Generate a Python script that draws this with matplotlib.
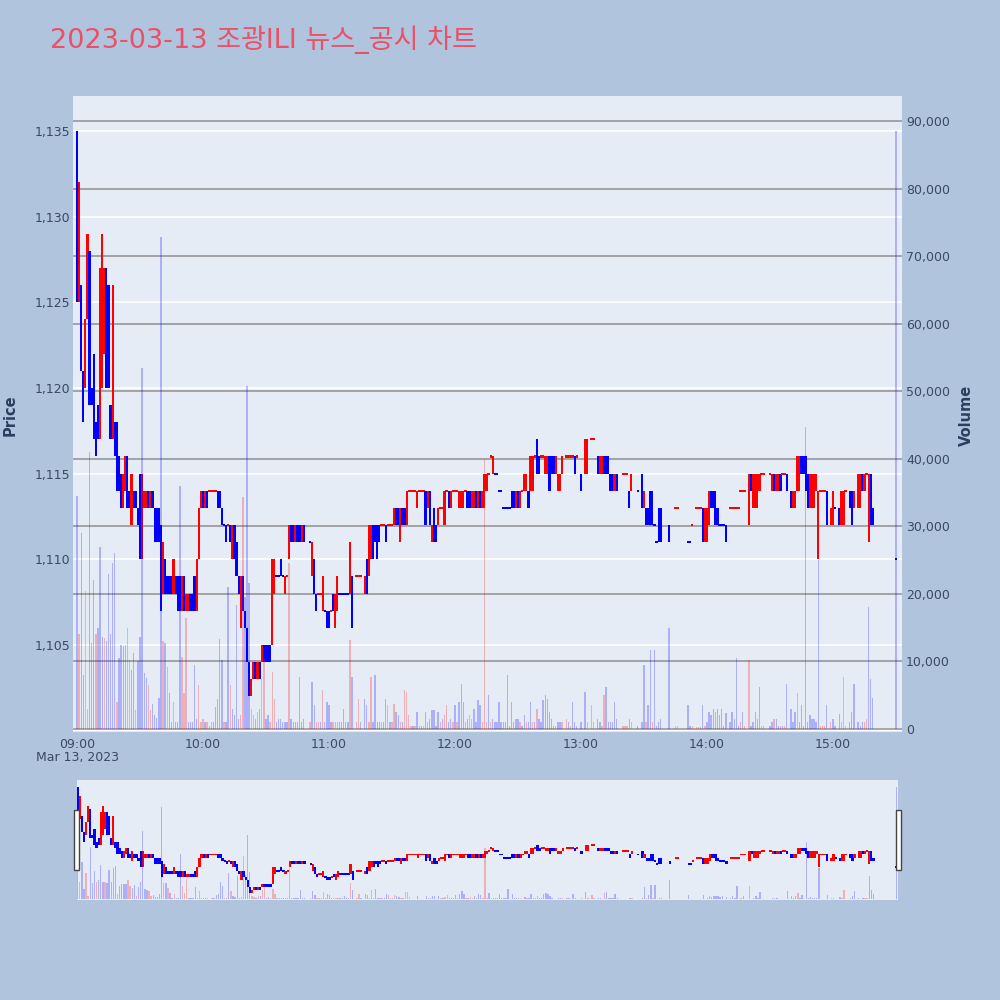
import matplotlib.pyplot as plt
from matplotlib.patches import Rectangle

# one-minute bars, minutes after 09:00
minute = [
    0, 1, 2, 3, 4, 5, 6, 7, 8, 9,
    10, 11, 12, 13, 14, 15, 16, 17, 18, 19,
    20, 21, 22, 23, 24, 25, 26, 27, 28, 29,
    30, 31, 32, 33, 34, 35, 36, 37, 38, 39,
    40, 41, 42, 43, 44, 45, 46, 47, 48, 49,
    50, 51, 52, 53, 54, 55, 56, 57, 58, 59,
    60, 61, 62, 63, 64, 65, 66, 67, 68, 69,
    70, 71, 72, 73, 74, 75, 76, 77, 78, 79,
    80, 81, 82, 83, 84, 85, 86, 87, 88, 89,
    90, 91, 92, 93, 94, 95, 96, 97, 98, 99,
    100, 101, 102, 103, 104, 105, 106, 107, 108, 111,
    112, 113, 114, 115, 116, 117, 118, 119, 120, 121,
    122, 123, 124, 125, 126, 127, 128, 129, 130, 131,
    133, 134, 135, 137, 138, 139, 140, 141, 142, 143,
    144, 145, 146, 147, 148, 149, 150, 151, 152, 153,
    154, 155, 156, 157, 158, 159, 160, 161, 162, 163,
    164, 165, 166, 167, 168, 169, 170, 171, 172, 173,
    174, 175, 176, 177, 178, 179, 180, 181, 182, 183,
    184, 185, 186, 187, 188, 189, 190, 191, 192, 193,
    194, 195, 196, 197, 198, 199, 200, 201, 202, 203,
    204, 205, 206, 207, 208, 209, 210, 211, 212, 213,
    214, 215, 216, 217, 218, 219, 220, 221, 222, 223,
    224, 225, 226, 227, 228, 229, 230, 231, 233, 234,
    235, 236, 237, 238, 240, 242, 243, 245, 246, 248,
    249, 250, 251, 252, 253, 254, 255, 256, 257, 260,
    261, 262, 263, 264, 267, 269, 270, 271, 272, 273,
    274, 275, 276, 277, 278, 282, 285, 286, 291, 292,
    293, 295, 296, 297, 298, 299, 300, 301, 302, 303,
    304, 305, 306, 307, 308, 309, 311, 312, 313, 314,
    315, 316, 317, 318, 320, 321, 322, 323, 324, 325,
    326, 327, 330, 331, 332, 333, 334, 335, 336, 337,
    338, 340, 341, 342, 343, 344, 345, 346, 347, 348,
    349, 350, 351, 352, 353, 354, 355, 356, 357, 359,
    360, 361, 363, 364, 365, 366, 368, 369, 370, 372,
    373, 374, 375, 376, 377, 378, 379, 390,
]

open_p = [
    1135, 1125, 1126, 1121, 1120, 1124, 1128, 1120, 1122, 1118,
    1119, 1117, 1120, 1122, 1127, 1126, 1119, 1117, 1118, 1118,
    1116, 1115, 1113, 1114, 1116, 1114, 1112, 1114, 1114, 1113,
    1115, 1110, 1113, 1113, 1114, 1113, 1114, 1113, 1113, 1113,
    1112, 1108, 1110, 1109, 1109, 1109, 1108, 1109, 1109, 1109,
    1107, 1109, 1107, 1107, 1108, 1108, 1109, 1107, 1110, 1113,
    1114, 1113, 1114, 1114, 1114, 1114, 1114, 1114, 1114, 1113,
    1112, 1112, 1112, 1112, 1110, 1112, 1111, 1109, 1106, 1109,
    1107, 1106, 1104, 1102, 1103, 1104, 1103, 1104, 1104, 1105,
    1105, 1105, 1105, 1105, 1108, 1109, 1109, 1110, 1109, 1108,
    1109, 1110, 1112, 1112, 1111, 1112, 1112, 1111, 1112, 1111,
    1109, 1110, 1108, 1108, 1108, 1107, 1107, 1107, 1107, 1107,
    1108, 1106, 1107, 1108, 1108, 1108, 1108, 1108, 1108, 1109,
    1109, 1109, 1109, 1108, 1110, 1109, 1110, 1112, 1112, 1112,
    1112, 1112, 1112, 1112, 1112, 1112, 1112, 1112, 1113, 1113,
    1111, 1113, 1113, 1112, 1114, 1114, 1114, 1114, 1113, 1114,
    1114, 1114, 1114, 1113, 1114, 1111, 1113, 1112, 1112, 1113,
    1113, 1112, 1114, 1114, 1113, 1114, 1114, 1114, 1113, 1113,
    1113, 1114, 1114, 1114, 1113, 1113, 1114, 1113, 1114, 1113,
    1113, 1114, 1115, 1116, 1115, 1115, 1115, 1114, 1114, 1113,
    1113, 1113, 1113, 1114, 1114, 1113, 1114, 1113, 1114, 1114,
    1114, 1114, 1114, 1114, 1116, 1117, 1116, 1116, 1116, 1115,
    1115, 1116, 1116, 1116, 1115, 1114, 1114, 1115, 1116, 1116,
    1116, 1116, 1116, 1116, 1115, 1115, 1115, 1117, 1117, 1116,
    1115, 1115, 1116, 1116, 1116, 1115, 1115, 1114, 1115, 1115,
    1115, 1115, 1114, 1114, 1114, 1115, 1113, 1113, 1113, 1114,
    1114, 1112, 1111, 1113, 1113, 1112, 1113, 1113, 1111, 1111,
    1112, 1113, 1113, 1113, 1113, 1111, 1111, 1112, 1114, 1114,
    1114, 1113, 1112, 1112, 1112, 1112, 1113, 1113, 1113, 1113,
    1113, 1114, 1114, 1114, 1112, 1115, 1113, 1113, 1113, 1114,
    1115, 1115, 1115, 1114, 1115, 1114, 1114, 1115, 1115, 1115,
    1115, 1114, 1113, 1113, 1114, 1114, 1116, 1116, 1116, 1115,
    1113, 1113, 1113, 1114, 1110, 1114, 1114, 1114, 1114, 1112,
    1112, 1113, 1113, 1112, 1112, 1114, 1114, 1114, 1113, 1113,
    1113, 1115, 1114, 1115, 1111, 1115, 1113, 1110,
]

close_p = [
    1125, 1132, 1121, 1118, 1124, 1129, 1119, 1119, 1117, 1116,
    1117, 1127, 1129, 1127, 1120, 1120, 1117, 1126, 1116, 1114,
    1114, 1113, 1115, 1116, 1113, 1113, 1115, 1113, 1113, 1112,
    1110, 1115, 1114, 1114, 1113, 1114, 1113, 1111, 1111, 1111,
    1107, 1111, 1108, 1108, 1108, 1108, 1110, 1108, 1107, 1107,
    1109, 1107, 1108, 1108, 1107, 1107, 1107, 1110, 1113, 1114,
    1113, 1114, 1113, 1114, 1114, 1114, 1114, 1113, 1113, 1112,
    1112, 1111, 1112, 1111, 1112, 1110, 1109, 1108, 1109, 1107,
    1106, 1104, 1102, 1103, 1104, 1103, 1104, 1103, 1105, 1104,
    1104, 1104, 1104, 1110, 1110, 1109, 1109, 1109, 1109, 1109,
    1109, 1112, 1111, 1111, 1112, 1111, 1111, 1112, 1111, 1111,
    1111, 1108, 1107, 1108, 1108, 1109, 1107, 1106, 1106, 1107,
    1107, 1108, 1109, 1108, 1108, 1108, 1108, 1108, 1111, 1106,
    1109, 1109, 1109, 1109, 1108, 1112, 1112, 1110, 1111, 1110,
    1111, 1112, 1112, 1111, 1112, 1112, 1112, 1113, 1112, 1112,
    1113, 1112, 1112, 1114, 1114, 1114, 1114, 1114, 1114, 1114,
    1114, 1114, 1112, 1114, 1112, 1112, 1111, 1111, 1113, 1113,
    1113, 1114, 1114, 1113, 1114, 1114, 1114, 1114, 1114, 1114,
    1114, 1114, 1113, 1113, 1114, 1114, 1113, 1114, 1113, 1114,
    1115, 1115, 1115, 1116, 1116, 1115, 1115, 1114, 1114, 1113,
    1113, 1113, 1113, 1113, 1113, 1114, 1113, 1114, 1114, 1115,
    1115, 1113, 1116, 1116, 1116, 1115, 1115, 1116, 1116, 1116,
    1116, 1114, 1115, 1115, 1116, 1115, 1115, 1116, 1116, 1116,
    1116, 1116, 1115, 1116, 1114, 1117, 1117, 1117, 1117, 1115,
    1116, 1116, 1115, 1115, 1115, 1114, 1114, 1115, 1114, 1115,
    1115, 1115, 1113, 1115, 1114, 1113, 1114, 1112, 1112, 1112,
    1112, 1112, 1111, 1111, 1111, 1111, 1113, 1113, 1111, 1111,
    1112, 1113, 1113, 1113, 1111, 1113, 1113, 1114, 1113, 1113,
    1112, 1112, 1112, 1112, 1112, 1111, 1113, 1113, 1113, 1113,
    1113, 1114, 1114, 1114, 1115, 1114, 1115, 1115, 1115, 1115,
    1115, 1115, 1115, 1115, 1114, 1115, 1115, 1114, 1115, 1115,
    1114, 1113, 1114, 1114, 1116, 1116, 1115, 1115, 1114, 1113,
    1115, 1115, 1115, 1115, 1114, 1114, 1114, 1114, 1112, 1113,
    1114, 1113, 1112, 1114, 1114, 1114, 1113, 1112, 1114, 1115,
    1115, 1114, 1115, 1115, 1115, 1112, 1112, 1110,
]

# volume in thousands of shares
volume_k = [
    34.5, 14, 29, 8, 20.5, 3, 41, 12.7, 22, 14,
    15, 27, 13.6, 13.5, 13, 23, 14, 24.5, 26, 4,
    10.5, 12.4, 12.3, 12.4, 15, 10.2, 8.7, 11.2, 2.8, 10,
    13.6, 53.5, 8.3, 7.5, 6.5, 2.8, 3.7, 2, 1.7, 4.6,
    72.9, 13.1, 12.8, 9.2, 5.3, 1, 4, 1, 1, 36,
    10.7, 5.3, 16.4, 1, 1, 1, 9.5, 1.5, 6.5, 1,
    1.5, 1, 1, 0.5, 1, 1, 3.3, 4.5, 13.3, 10.2,
    1, 1, 21, 6.5, 3, 2, 18.3, 1.5, 2, 34.3,
    19.5, 50.7, 21.6, 3, 2, 1.5, 2.5, 3, 7.4, 10.2,
    1.5, 2, 1, 8.4, 4.5, 1, 1.5, 1.5, 1, 1,
    1, 24.5, 1.5, 1, 1, 1, 7.7, 1, 1.5, 1,
    7, 3.5, 1, 1, 1, 5.8, 1, 4, 3.5, 1,
    1, 1, 1, 1, 1, 3, 1, 1, 13.2, 7.7,
    1, 4.5, 1, 4.5, 3.5, 1, 7.7, 1, 8, 1,
    1, 1, 1, 4.5, 3.5, 1, 1, 3.7, 2.5, 2,
    1, 1, 5.8, 5.5, 2, 0.5, 0.5, 0.5, 2.5, 0.5,
    0.5, 0.5, 2.5, 1, 1.5, 2.8, 2.8, 0.5, 2.5, 1,
    1.5, 2, 3.5, 1, 1.5, 1, 3.5, 1, 4, 6.6,
    4, 1, 1.5, 2, 1.5, 3, 1, 4.3, 3.5, 1,
    40, 1, 5, 1, 1.5, 1, 1, 4, 1, 1,
    1, 8, 0.5, 4, 1, 1.5, 1.5, 1, 0.5, 2,
    1, 1, 4, 1, 1, 3, 1.5, 1, 4.3, 5,
    4.5, 2.5, 1.5, 0.5, 0.5, 1, 1, 1, 1.5, 1,
    0.5, 4, 1, 0.5, 1, 5.5, 1, 3.5, 1, 1.5,
    1, 0.5, 5, 6.2, 1, 1, 1, 4, 1.5, 0.5,
    0.5, 0.5, 1.5, 1, 0.5, 1, 9.5, 1, 3.5, 11.7,
    1, 11.7, 0.5, 1, 1.5, 15, 0.5, 0.5, 3.5, 0.5,
    0.5, 0.3, 0.3, 0.3, 3.5, 0.5, 1, 2.5, 2, 3,
    2.5, 3, 2, 3, 0.5, 2.3, 1, 2.5, 1.5, 10.5,
    0.5, 1, 2.5, 0.5, 10.2, 0.5, 1, 2.5, 1.5, 6.2,
    0.5, 0.5, 0.5, 1, 1.5, 1.5, 0.5, 0.5, 0.5, 0.5,
    6.6, 3, 1, 2.5, 5.3, 1, 3.5, 0.5, 44.7, 1,
    2, 1.5, 1.5, 1, 25, 0.5, 0.5, 0.5, 3.5, 1,
    1.5, 0.5, 2.2, 1, 7.7, 0.5, 1, 2.5, 6.6, 1,
    0.5, 1, 1, 1.5, 18, 7.4, 4.6, 88.5,
]

# colour of each volume bar: r = red, b = blue
vol_side = (
    "brbbrrbbbr" "bbbrbbbbbr" "bbbbrrbbrb" "bbbbrrbbbb" "brbrbbrbbb"
    "rrrbbbbbrr" "rbrbrbbbbb" "rbbrbbbbrr" "bbbrrbrbrr" "bbrrrbbbbb"
    "brbbbbbbbr" "bbrrbrbbbb" "rrrbbbbbrb" "rrbbbrrbbb" "brbbrbrrbb"
    "rbrrrrbrbr" "brbrbbbbbr" "brrbbrbrbb" "brbrrbbbbr" "rrbrbbbbbb"
    "bbbbbbbrbb" "rbbrbrbbbb" "bbbbrbbrrb" "rbbbbbrrrb" "brrbbbbbbr"
    "rrbrbbbrbb" "rbbbbbrrbb" "rrrrbrbbbb" "bbbbbbbbbb" "brbrrbbbbb"
    "rrbbrbbrbr" "bbbbrbbbbb" "bbbbbrrrbr" "bbbrrrbbbb" "bbrrbbbb"
)

hour_ticks = [0, 60, 120, 180, 240, 300, 360]
hour_labels = ["09:00", "10:00", "11:00", "12:00", "13:00", "14:00", "15:00"]
price_ticks = [1105, 1110, 1115, 1120, 1125, 1130, 1135]
vol_ticks = [0, 10000, 20000, 30000, 40000, 50000, 60000, 70000, 80000, 90000]

title = "2023-03-13 조광ILI 뉴스_공시 차트"

BG = "#B0C4DE"
PLOT_BG = "#E5ECF6"
UP = "#FF0000"
DOWN = "#0000FF"
TXT = "#3b4a5e"
PRICE_LIM = (1099.92, 1137.04)
VOL_LIM = (-444, 93700)

# plotly style direction: equal open/close follows previous close
colors = []
prev_c, prev_col = None, DOWN
for o, c in zip(open_p, close_p):
    if c > o:
        col = UP
    elif c < o:
        col = DOWN
    elif prev_c is not None and c > prev_c:
        col = UP
    elif prev_c is not None and c < prev_c:
        col = DOWN
    else:
        col = prev_col
    colors.append(col)
    prev_c, prev_col = c, col

volume = [v * 1000 for v in volume_k]
vol_colors = [UP if s == "r" else DOWN for s in vol_side]


def draw_candles(ax, doji_h):
    bottoms, heights = [], []
    for o, c in zip(open_p, close_p):
        if o == c:
            bottoms.append(o - doji_h / 2)
            heights.append(doji_h)
        else:
            bottoms.append(min(o, c))
            heights.append(abs(c - o))
    ax.bar(minute, heights, bottom=bottoms, width=1.05, color=colors,
           linewidth=0, zorder=3)


def draw_volume(ax):
    ax.bar(minute, volume, width=0.65, color=vol_colors, alpha=0.25,
           linewidth=0)


def px_rect(l, t, r, b):
    return [l / 1000, 1 - b / 1000, (r - l) / 1000, (b - t) / 1000]


fig = plt.figure(figsize=(10, 10), dpi=100, facecolor=BG)

# main chart: volume axis (right) underneath
ax_v = fig.add_axes(px_rect(73, 96, 902, 732))
ax_v.set_facecolor(PLOT_BG)
ax_v.set_xlim(-1.9, 392.9)
ax_v.set_ylim(*VOL_LIM)
ax_v.grid(axis="y", color="#8f8f8f", lw=1.1)
ax_v.axhline(0, color="white", lw=2, zorder=1)
ax_v.set_xticks(hour_ticks)
ax_v.set_xticklabels(hour_labels)
for s in ax_v.spines.values():
    s.set_visible(False)

# price candles on top
ax_p = ax_v.twinx()
ax_p.set_ylim(*PRICE_LIM)
ax_p.yaxis.tick_left()
ax_p.set_yticks(price_ticks)
ax_p.set_yticklabels([f"{p:,}" for p in price_ticks])
ax_p.tick_params(axis="y", length=0, labelsize=9, labelcolor=TXT, pad=2)
ax_p.grid(axis="y", color="white", lw=1.2)
ax_p.set_axisbelow(True)
for s in ax_p.spines.values():
    s.set_visible(False)
draw_candles(ax_p, 0.12)

# twinx moved the volume ticks to the left, put them back on the right
ax_v.yaxis.tick_right()
ax_v.set_yticks(vol_ticks)
ax_v.set_yticklabels([f"{v:,}" for v in vol_ticks])
ax_v.tick_params(axis="both", length=0, labelsize=9, labelcolor=TXT)
ax_v.tick_params(axis="y", pad=3)
ax_v.tick_params(axis="x", pad=4)

# volume bars drawn over the candles, translucent
ax_vb = fig.add_axes(px_rect(73, 96, 902, 732), sharex=ax_v)
ax_vb.set_ylim(*VOL_LIM)
ax_vb.axis("off")
draw_volume(ax_vb)

fig.text(78 / 1000, 1 - 758 / 1000, "Mar 13, 2023", ha="center", va="center",
         fontsize=9, color=TXT)
fig.text(10 / 1000, 1 - 415 / 1000, "Price", rotation=90, ha="center",
         va="center", fontsize=10.5, fontweight="bold", color="#2a3f5f")
fig.text(966 / 1000, 1 - 415 / 1000, "Volume", rotation=90, ha="center",
         va="center", fontsize=10.5, fontweight="bold", color="#2a3f5f")
fig.text(50 / 1000, 1 - 40 / 1000, title, ha="left", va="center",
         fontsize=19.5, color="#EA5068",
         family=["DejaVu Sans", "Noto Sans CJK KR"])

# range slider
ax_s = fig.add_axes(px_rect(77, 780, 898, 900))
ax_s.set_facecolor(PLOT_BG)
ax_s.set_xlim(-0.3, 390.7)
ax_s.set_ylim(*PRICE_LIM)
ax_s.set_xticks([])
ax_s.set_yticks([])
for s in ax_s.spines.values():
    s.set_visible(False)
draw_candles(ax_s, 0.6)
ax_s2 = fig.add_axes(px_rect(77, 780, 898, 900), sharex=ax_s)
ax_s2.set_ylim(*VOL_LIM)
ax_s2.axis("off")
draw_volume(ax_s2)

for l in (74, 896):
    fig.patches.append(Rectangle((l / 1000, 1 - 870 / 1000), 5 / 1000, 60 / 1000,
                                 transform=fig.transFigure, facecolor="white",
                                 edgecolor="#444444", lw=1, zorder=10))

fig.savefig("out.png", dpi=100, facecolor=BG)
